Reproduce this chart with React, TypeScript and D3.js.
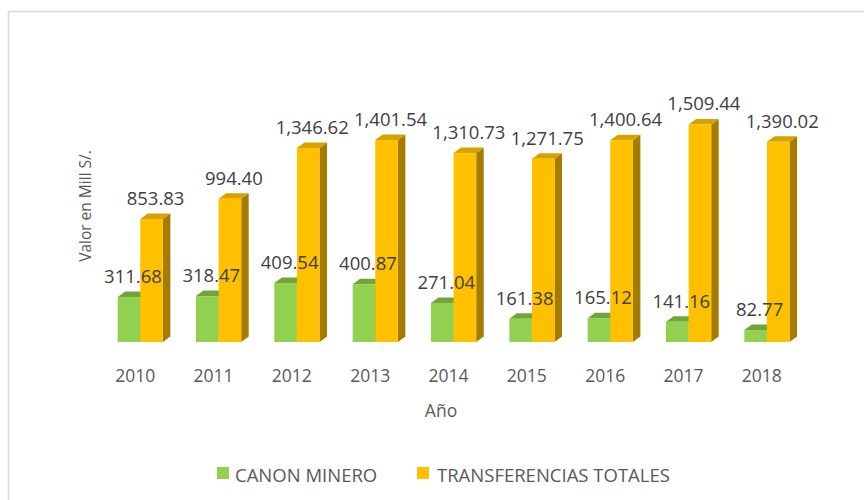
import React from "react";
import * as d3 from "d3";

const years = ["2010", "2011", "2012", "2013", "2014", "2015", "2016", "2017", "2018"];
const canonMinero = [311.68, 318.47, 409.54, 400.87, 271.04, 161.38, 165.12, 141.16, 82.77];
const transferencias = [853.83, 994.4, 1346.62, 1401.54, 1310.73, 1271.75, 1400.64, 1509.44, 1390.02];
const seriesNames = ["CANON MINERO", "TRANSFERENCIAS TOTALES"];

const W = 864;
const H = 500;
const FONT = "'Open Sans', 'Liberation Sans', sans-serif";

const colors = [
  { front: "#92d050", top: "#72a43a", side: "#5f8a2e" },
  { front: "#ffc000", top: "#d6a200", side: "#a67c00" },
];

export default function App() {
  const x = d3.scaleBand<string>().domain(years).range([96, 801]).padding(0);
  const y = d3.scaleLinear().domain([0, 1600]).range([342, 342 - 1600 * 0.1441]);
  const barW = 22.6;
  const dx = 7.5;
  const dy = -5.5;
  const fmt = d3.format(",.2f");

  const bar = (left: number, v: number, c: { front: string; top: string; side: string }, key: string) => {
    const top = y(v);
    const base = y(0);
    const r = left + barW;
    return (
      <g key={key}>
        <polygon points={`${r},${top} ${r + dx},${top + dy} ${r + dx},${base + dy} ${r},${base}`} fill={c.side} />
        <polygon points={`${left},${top} ${left + dx},${top + dy} ${r + dx},${top + dy} ${r},${top}`} fill={c.top} />
        <rect x={left} y={top} width={barW} height={base - top} fill={c.front} />
      </g>
    );
  };

  return (
    <svg width={W} height={H} style={{ position: "absolute", left: 0, top: 0, background: "#fff" }}>
      <rect x={8.5} y={11.5} width={W + 20} height={H + 20} fill="#fff" stroke="#d9d9d9" strokeWidth={1.5} />
      {years.map((yr, i) => {
        const c = (x(yr) as number) + x.bandwidth() / 2;
        const gL = c - 17.5;
        const oL = gL + barW;
        return (
          <g key={yr}>
            {bar(gL, canonMinero[i], colors[0], "g")}
            {bar(oL, transferencias[i], colors[1], "o")}
          </g>
        );
      })}
      {years.map((yr, i) => {
        const c = (x(yr) as number) + x.bandwidth() / 2;
        const gL = c - 17.5;
        const oL = gL + barW;
        return (
          <g key={"l" + yr} fontFamily={FONT} fill="#404040" textAnchor="middle">
            <text fontSize={18.5} x={gL + barW / 2 + 4} y={y(canonMinero[i]) - 14}>{fmt(canonMinero[i])}</text>
            <text fontSize={18.5} x={oL + barW / 2 + 4} y={y(transferencias[i]) - 14}>{fmt(transferencias[i])}</text>
            <text fontSize={17.5} x={c} y={382} fill="#595959">{yr}</text>
          </g>
        );
      })}
      <text x={441} y={417} textAnchor="middle" fontFamily={FONT} fontSize={17.5} fill="#595959">Año</text>
      <text transform="translate(91,206) rotate(-90)" textAnchor="middle" fontFamily={FONT} fontSize={15.5} fill="#595959">Valor en Mill S/.</text>
      <g fontFamily={FONT} fontSize={18.5} fill="#595959">
        <rect x={217} y={467} width={12} height={12} fill={colors[0].front} />
        <text x={235} y={482}>{seriesNames[0]}</text>
        <rect x={417} y={467} width={12} height={12} fill={colors[1].front} />
        <text x={437} y={482}>{seriesNames[1]}</text>
      </g>
    </svg>
  );
}
